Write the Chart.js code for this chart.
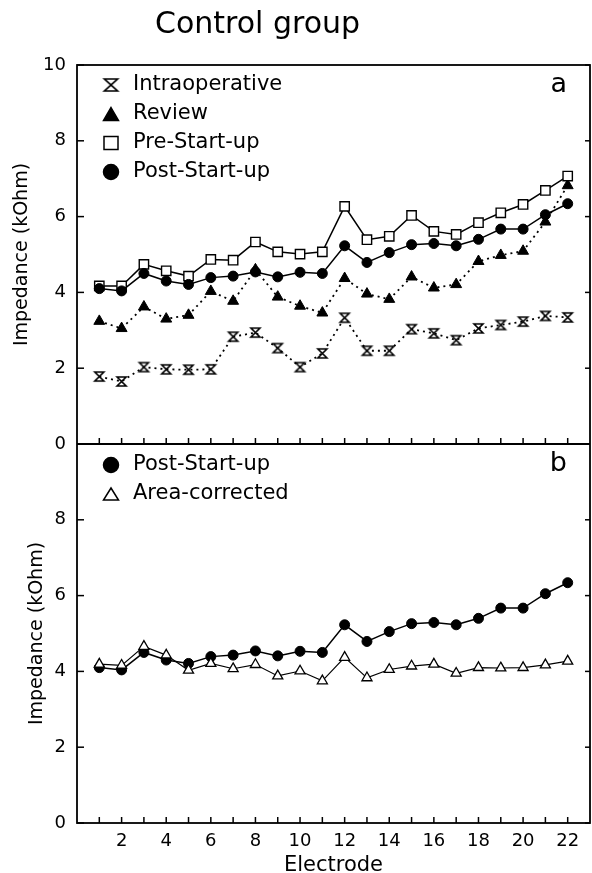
<!DOCTYPE html>
<html>
<head>
<meta charset="utf-8">
<script src="https://cdn.jsdelivr.net/npm/chart.js@4.4.1/dist/chart.umd.min.js"></script>
<style>
html,body{margin:0;padding:0;background:#fff;}
canvas{display:block;}
</style>
</head>
<body>
<canvas id="c" width="592" height="873" style="width:592px;height:873px"></canvas>
<script>
// ---- data ----
const electrodes = [1,2,3,4,5,6,7,8,9,10,11,12,13,14,15,16,17,18,19,20,21,22];
const intraoperative = [1.78,1.65,2.03,1.97,1.96,1.97,2.83,2.94,2.53,2.03,2.39,3.33,2.46,2.46,3.03,2.92,2.74,3.05,3.14,3.23,3.38,3.34];
const review = [3.24,3.05,3.62,3.30,3.40,4.03,3.77,4.60,3.88,3.64,3.46,4.37,3.96,3.82,4.41,4.12,4.21,4.82,4.98,5.09,5.86,6.82];
const preStartup = [4.17,4.17,4.74,4.57,4.43,4.87,4.85,5.33,5.07,5.01,5.07,6.27,5.39,5.48,6.03,5.61,5.53,5.84,6.10,6.32,6.69,7.07];
const postStartup = [4.10,4.04,4.50,4.30,4.21,4.39,4.43,4.54,4.41,4.53,4.50,5.23,4.79,5.05,5.26,5.29,5.23,5.40,5.67,5.67,6.05,6.34];
const areaCorrected = [4.19,4.16,4.66,4.43,4.03,4.21,4.07,4.18,3.88,4.01,3.75,4.37,3.83,4.05,4.14,4.19,3.95,4.10,4.09,4.10,4.17,4.27];
const xTickLabels = [2,4,6,8,10,12,14,16,18,20,22];
const yTicksA = [0,2,4,6,8,10];
const yTicksB = [0,2,4,6,8,10];
const titleText = 'Control group';
const yTitle = 'Impedance (kOhm)';
const xTitle = 'Electrode';

const FONT = 'DejaVu Sans';
Chart.defaults.font.family = FONT;
Chart.defaults.color = '#000';

function hourglass(w, h, lw) {
  const c = document.createElement('canvas');
  const p = Math.ceil(lw) + 1;
  c.width = w + 2 * p; c.height = h + 2 * p;
  const g = c.getContext('2d');
  g.lineWidth = lw; g.strokeStyle = '#000'; g.fillStyle = '#fff';
  g.beginPath();
  g.moveTo(p, p); g.lineTo(p + w, p); g.lineTo(p, p + h); g.lineTo(p + w, p + h); g.closePath();
  g.fill(); g.stroke();
  return c;
}
const hgPlot = hourglass(9, 9, 1.6);
const hgLegend = hourglass(13, 12, 1.7);

const pts = arr => electrodes.map((e, i) => ({x: e, y: arr[i]}));

const datasets = [
  {label: 'Intraoperative', data: pts(intraoperative), yAxisID: 'yA', order: 4,
   borderColor: '#000', borderWidth: 1.8, borderDash: [2, 4], backgroundColor: '#fff',
   pointStyle: hgPlot, pointRadius: 6, legend: {style: 'image', img: hgLegend}},
  {label: 'Review', data: pts(review), yAxisID: 'yA', order: 3,
   borderColor: '#000', borderWidth: 1.8, borderDash: [2, 4], backgroundColor: '#000',
   pointStyle: 'triangle', pointRadius: 6.3, pointBorderWidth: 1,
   legend: {style: 'triangle', w: 15, h: 13, fill: '#000'}},
  {label: 'Pre-Start-up', data: pts(preStartup), yAxisID: 'yA', order: 2,
   borderColor: '#000', borderWidth: 1.5, backgroundColor: '#fff',
   pointStyle: 'rect', pointRadius: 6.6, pointBorderWidth: 1.4,
   legend: {style: 'rect', w: 14, h: 13, fill: '#fff'}},
  {label: 'Post-Start-up', data: pts(postStartup), yAxisID: 'yA', order: 1,
   borderColor: '#000', borderWidth: 1.5, backgroundColor: '#000',
   pointStyle: 'circle', pointRadius: 5, pointBorderWidth: 1,
   legend: {style: 'circle', r: 7.5, fill: '#000'}},
  {label: 'Post-Start-up', data: pts(postStartup), yAxisID: 'yB', order: 2,
   borderColor: '#000', borderWidth: 1.5, backgroundColor: '#000',
   pointStyle: 'circle', pointRadius: 5, pointBorderWidth: 1,
   legend: {style: 'circle', r: 7.5, fill: '#000'}},
  {label: 'Area-corrected', data: pts(areaCorrected), yAxisID: 'yB', order: 1,
   borderColor: '#000', borderWidth: 1.2, backgroundColor: '#fff',
   pointStyle: 'triangle', pointRadius: 5.8, pointBorderWidth: 1.3,
   legend: {style: 'triangle', w: 15, h: 12, fill: '#fff'}}
];

function drawMarker(ctx, m, x, y) {
  ctx.save();
  ctx.lineWidth = 1.5; ctx.strokeStyle = '#000'; ctx.fillStyle = m.fill || '#000';
  if (m.style === 'circle') {
    ctx.beginPath(); ctx.arc(x, y, m.r, 0, Math.PI * 2); ctx.fill(); ctx.stroke();
  } else if (m.style === 'rect') {
    ctx.fillRect(x - m.w / 2, y - m.h / 2, m.w, m.h);
    ctx.strokeRect(x - m.w / 2, y - m.h / 2, m.w, m.h);
  } else if (m.style === 'triangle') {
    ctx.beginPath();
    ctx.moveTo(x, y - m.h / 2); ctx.lineTo(x + m.w / 2, y + m.h / 2); ctx.lineTo(x - m.w / 2, y + m.h / 2);
    ctx.closePath(); ctx.fill(); ctx.stroke();
  } else if (m.style === 'image') {
    ctx.drawImage(m.img, x - m.img.width / 2, y - m.img.height / 2);
  }
  ctx.restore();
}

const decor = {
  id: 'decor',
  afterDraw(chart) {
    const ctx = chart.ctx, ca = chart.chartArea;
    const x = chart.scales.x, yA = chart.scales.yA, yB = chart.scales.yB;
    const line = (x1, y1, x2, y2) => { ctx.beginPath(); ctx.moveTo(x1, y1); ctx.lineTo(x2, y2); ctx.stroke(); };
    ctx.save();
    ctx.strokeStyle = '#000';
    ctx.lineWidth = 1.8;
    ctx.strokeRect(ca.left, ca.top, ca.right - ca.left, ca.bottom - ca.top);
    const mid = yA.bottom;
    line(ca.left, mid, ca.right, mid);
    ctx.lineWidth = 1.5;
    electrodes.forEach(e => {
      const px = x.getPixelForValue(e);
      line(px, mid, px, mid - 6);
      line(px, ca.bottom, px, ca.bottom - 6);
    });
    [yA, yB].forEach(s => s.ticks.forEach(t => {
      const py = s.getPixelForValue(t.value);
      line(ca.left, py, ca.left + 7, py);
      line(ca.right, py, ca.right - 5, py);
    }));
    // legends
    ctx.fillStyle = '#000';
    ctx.font = '21px "' + FONT + '"';
    ctx.textBaseline = 'middle';
    ctx.textAlign = 'left';
    const rows = {yA: 0, yB: 0};
    chart.data.datasets.forEach(ds => {
      const s = chart.scales[ds.yAxisID];
      const cy = s.top + (ds.yAxisID === 'yA' ? 20 : 21) + rows[ds.yAxisID] * 29;
      rows[ds.yAxisID]++;
      drawMarker(ctx, ds.legend, ca.left + 34, cy);
      ctx.fillText(ds.label, ca.left + 56, cy);
    });
    // panel letters
    ctx.font = '27px "' + FONT + '"';
    ctx.textAlign = 'right';
    ctx.textBaseline = 'alphabetic';
    ctx.fillText('a', ca.right - 23, yA.top + 27);
    ctx.fillText('b', ca.right - 23, yB.top + 27);
    // figure title
    ctx.font = '30px "' + FONT + '"';
    ctx.textAlign = 'left';
    ctx.fillText(titleText, 155, 33);
    ctx.restore();
  }
};

const yScale = (ticksArr, hideTop, titlePad) => ({
  type: 'linear', position: 'left', stack: 'panels', stackWeight: 1,
  min: 0, max: 10,
  afterBuildTicks: s => { s.ticks = ticksArr.map(v => ({value: v})); },
  afterFit: s => { s.width = 77; },
  ticks: {font: {size: 18}, padding: 11, color: '#000',
          callback: v => (hideTop && v === 10) ? '' : String(v)},
  grid: {display: false, drawTicks: false},
  border: {display: false},
  title: {display: true, text: yTitle, color: '#000', font: {size: 19, lineHeight: 1},
          padding: {top: titlePad, bottom: 0}}
});

new Chart(document.getElementById('c'), {
  type: 'line',
  data: {datasets},
  options: {
    responsive: false,
    animation: false,
    events: [],
    layout: {autoPadding: false, padding: {top: 65, right: 2, left: 0, bottom: 0}},
    elements: {line: {tension: 0}},
    plugins: {legend: {display: false}, tooltip: {enabled: false}, title: {display: false}},
    scales: {
      x: {
        type: 'linear', min: 0, max: 23,
        afterBuildTicks: s => { s.ticks = xTickLabels.map(v => ({value: v})); },
        afterFit: s => { s.height = 50; s.paddingLeft = 0; s.paddingRight = 0; },
        ticks: {font: {size: 18}, padding: 8, color: '#000', maxRotation: 0, autoSkip: false},
        grid: {display: false, drawTicks: false},
        border: {display: false},
        title: {display: true, text: xTitle, color: '#000', font: {size: 21, lineHeight: 1},
                padding: {top: 0, bottom: -3.5}}
      },
      yB: yScale(yTicksB, true, 28),
      yA: yScale(yTicksA, false, 13)
    }
  },
  plugins: [decor]
});
</script>
</body>
</html>
